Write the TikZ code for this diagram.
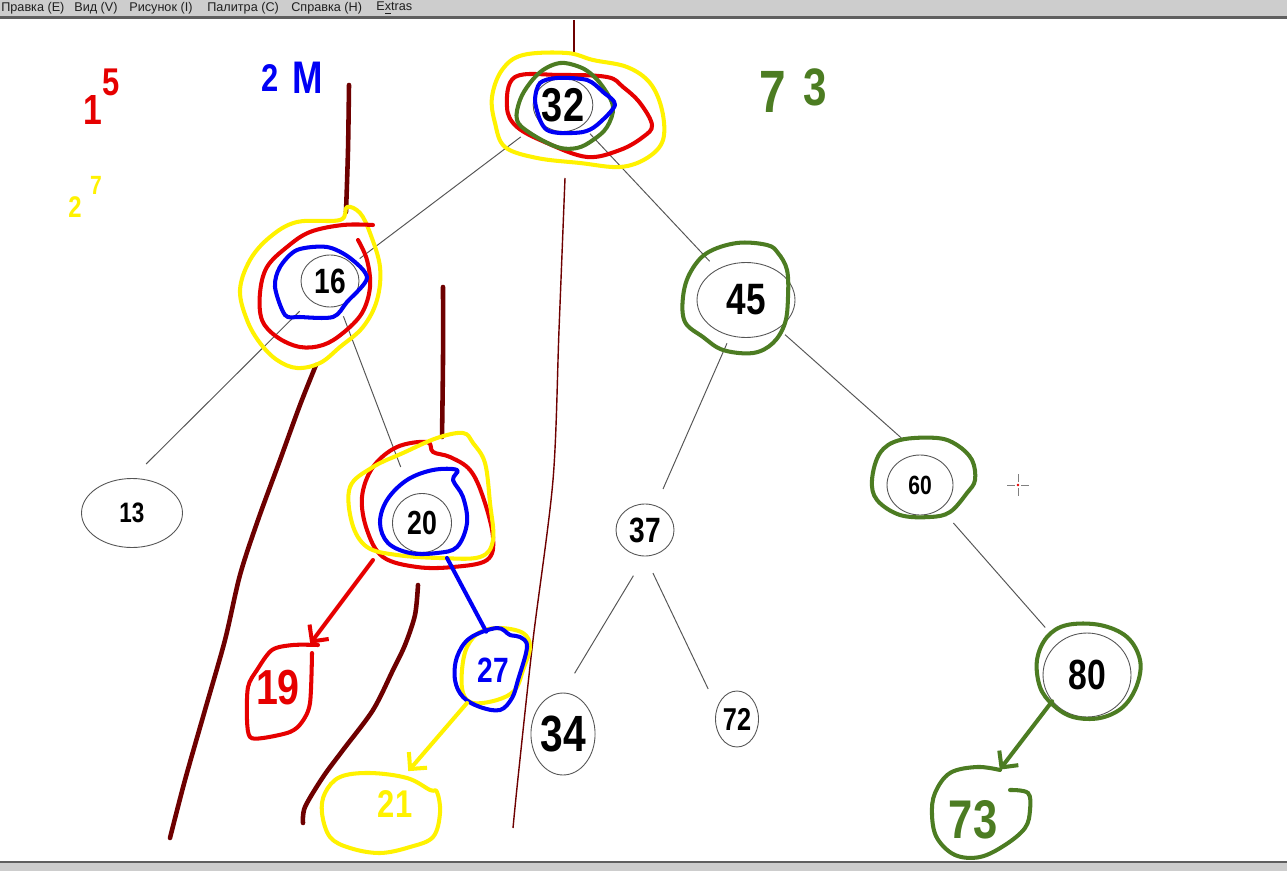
\documentclass[tikz,border=0pt]{standalone}
\usepackage{fontspec}
\setmainfont{Liberation Sans}
\newfontfamily\hand[FakeStretch=0.8]{Liberation Sans}
\usetikzlibrary{arrows.meta,shapes.geometric}

\definecolor{penred}{RGB}{230,0,0}
\definecolor{penblue}{RGB}{0,0,245}
\definecolor{penyellow}{RGB}{255,242,0}
\definecolor{pengreen}{RGB}{76,124,34}
\definecolor{penbrown}{RGB}{110,0,0}
\definecolor{edgegray}{RGB}{85,85,85}
\definecolor{barbg}{RGB}{205,205,205}
\definecolor{barline}{RGB}{95,95,95}

\newcommand{\hsz}[1]{\fontsize{#1}{#1}\selectfont}

\begin{document}
\begin{tikzpicture}[x=0.02cm,y=-0.02cm,
  val/.style={ellipse,draw=edgegray,line width=0.5pt,inner sep=0pt,font=\hand\bfseries\hsz{#1}},
  tag/.style={inner sep=0pt,font=\hand\bfseries\hsz{#1}},
  menu/.style={anchor=west,inner sep=0pt,font=\hsz{7.2},text=black!88},
  edge/.style={draw=edgegray,line width=0.55pt},
  pen/.style={line width=2.3pt,line cap=round,line join=round},
  tip/.style={-{Straight Barb[length=2.4mm,width=4.8mm]}}]

\useasboundingbox (0,0) rectangle (1287,871);
\fill[white] (0,0) rectangle (1287,871);

%% menu bar
\fill[barbg] (0,0) rectangle (1287,16);
\fill[barline] (0,16) rectangle (1287,19);
\node[menu] (mEdit) at (1,8) {Правка (E)};
\node[menu] (mView) at (74,8) {Вид (V)};
\node[menu] (mPic) at (129,8) {Рисунок (I)};
\node[menu] (mPal) at (207,8) {Палитра (C)};
\node[menu] (mHelp) at (291,8) {Справка (H)};
\node[menu] (mExtra) at (376,8) {E\underline{x}tras};

%% status bar
\fill[barline] (0,861) rectangle (1287,863);
\fill[barbg] (0,863) rectangle (1287,871);

%% vertices
\node[val=27,minimum width=1.12cm,minimum height=1.06cm] (n32) at (563,105) {32};
\node[val=20,minimum width=1.16cm,minimum height=1.04cm] (n16) at (330,281) {16};
\node[val=25,minimum width=1.96cm,minimum height=1.5cm] (n45) at (746,300) {45};
\node[val=16,minimum width=2.02cm,minimum height=1.38cm] (n13) at (132,513) {13};
\node[val=19,minimum width=1.18cm,minimum height=1.18cm] (n20) at (422,523) {20};
\node[val=20,minimum width=1.16cm,minimum height=1.04cm] (n37) at (645,530) {37};
\node[val=29,minimum width=1.28cm,minimum height=1.64cm] (n34) at (563,734) {34};
\node[val=18,minimum width=0.86cm,minimum height=1.12cm] (n72) at (737,719) {72};
\node[val=15,minimum width=1.32cm,minimum height=1.2cm] (n60) at (920,485) {60};
\node[val=24,minimum width=1.76cm,minimum height=1.68cm] (n80) at (1087,675) {80};

%% tree edges
\draw[edge,shorten <=4.8mm,shorten >=1.8mm] (n32) -- (n16);
\draw[edge,shorten <=2.2mm,shorten >=2.2mm] (n32) -- (n45);
\draw[edge,shorten <=3mm,shorten >=4mm] (n16) -- (n13.north);
\draw[edge,shorten <=2.2mm,shorten >=6mm] (n16) -- (n20);
\draw[edge,shorten <=1.6mm,shorten >=3.6mm] (n45) -- (n37);
\draw[edge,shorten <=1.8mm,shorten >=5mm] (n45) -- (n60.north);
\draw[edge,shorten <=4.5mm,shorten >=4.5mm] (n37.south) -- (n34.north);
\draw[edge,shorten <=3.7mm,shorten >=4.1mm] (n37.south) -- (n72.150);
\draw[edge,shorten <=3.8mm,shorten >=4mm] (n60) -- (n80);

%% found values
\node[tag=28,text=penred,minimum width=1.5cm,minimum height=1.76cm] (n19) at (278,688) {19};
\node[tag=20,text=penblue,minimum width=1.2cm,minimum height=1.52cm] (n27) at (493,670) {27};
\node[tag=22,text=penyellow,minimum width=1.8cm,minimum height=1.3cm] (n21) at (395,804) {21};
\node[tag=31,text=pengreen,minimum width=1.6cm,minimum height=2cm] (n73) at (973,820) {73};

%% top labels
\node[tag=24,text=penred] (redA) at (93,110) {1};
\node[tag=22,text=penred] (redB) at (111,82) {5};
\node[tag=22,text=penblue] (blueA) at (270,78) {2};
\node[tag=26,text=penblue] (blueB) at (308,78) {M};
\node[tag=34,text=pengreen] (greenA) at (773,92) {7};
\node[tag=30,text=pengreen] (greenB) at (815,87) {3};
\node[tag=17,text=penyellow] (yelA) at (75,207) {2};
\node[tag=15,text=penyellow] (yelB) at (96,185) {7};

%% brown strokes
\draw[pen,draw=penbrown,line width=2.6pt] plot[smooth] coordinates {(349,85) (348,150) (346,212)};
\draw[pen,draw=penbrown,line width=2.6pt] plot[smooth] coordinates {(443,287) (443,360) (442,437)};
\draw[pen,draw=penbrown,line width=2.6pt] plot[smooth] coordinates {(316,365) (300,405) (280,460) (258,520) (240,575) (225,640) (205,710) (185,780) (170,838)};
\draw[pen,draw=penbrown,line width=2.6pt] plot[smooth] coordinates {(418,585) (415,615) (405,645) (393,670) (373,710) (343,750) (323,777) (305,807) (303,823)};
\draw[draw=penbrown,line width=0.8pt] (574,20) -- (574,52);
\draw[draw=penbrown,line width=0.8pt] plot[smooth] coordinates {(565,178) (559,330) (553,480) (533,640) (518,778) (513,828)};

%% rings round 32
\draw[pen,draw=penyellow] plot[smooth cycle,tension=0.6] coordinates {(567,53) (523,55) (502,70) (492,97) (495,123) (505,147) (537,158) (580,163) (620,167) (647,158) (663,140) (662,110) (650,83) (627,67) (593,60)};
\draw[pen,draw=penred] plot[smooth cycle,tension=0.6] coordinates {(515,77) (507,107) (517,127) (547,143) (587,157) (620,150) (643,137) (652,125) (640,103) (623,87) (607,77) (560,75)};
\draw[pen,draw=pengreen] plot[smooth cycle,tension=0.6] coordinates {(560,63) (543,70) (530,83) (520,100) (517,120) (530,133) (557,147) (577,148) (593,140) (607,127) (613,107) (603,87) (590,73) (577,66)};
\draw[pen,draw=penblue] plot[smooth cycle,tension=0.5] coordinates {(540,83) (535,100) (540,120) (547,130) (560,133) (583,132) (597,125) (615,105) (603,92) (587,80) (557,78)};

%% rings round 16
\draw[pen,draw=penyellow] plot[smooth cycle,tension=0.6] coordinates {(340,220) (297,222) (270,237) (250,260) (240,290) (247,320) (260,343) (277,360) (297,368) (320,363) (340,347) (363,327) (377,300) (380,267) (370,233) (360,213) (347,207)};
\draw[pen,draw=penred] plot[smooth,tension=0.6] coordinates {(373,225) (343,225) (310,232) (287,247) (267,267) (260,293) (262,320) (277,337) (300,347) (323,345) (343,333) (362,313) (370,287) (367,260) (358,240)};
\draw[pen,draw=penblue] plot[smooth cycle,tension=0.5] coordinates {(367,278) (350,258) (327,247) (297,250) (280,267) (275,287) (285,315) (300,317) (333,317) (347,302)};

%% rings round 20
\draw[pen,draw=penred] plot[smooth cycle,tension=0.6] coordinates {(427,442) (397,447) (373,467) (362,497) (367,530) (383,557) (417,567) (453,567) (487,560) (493,537) (483,497) (470,470) (450,457) (433,452)};
\draw[pen,draw=penyellow] plot[smooth cycle,tension=0.6] coordinates {(463,433) (437,438) (403,453) (373,467) (350,487) (352,523) (367,547) (397,555) (440,558) (480,557) (493,540) (490,503) (485,463) (473,443)};
\draw[pen,draw=penblue] plot[smooth cycle,tension=0.6] coordinates {(457,470) (433,470) (407,480) (387,500) (380,523) (388,543) (410,553) (437,553) (457,547) (467,523) (463,497) (453,480)};

%% rings round 45, 60, 80
\draw[pen,draw=pengreen] plot[smooth cycle,tension=0.6] coordinates {(767,245) (737,243) (707,253) (690,273) (683,297) (685,322) (703,337) (723,350) (753,353) (773,343) (785,323) (788,297) (787,270) (778,253)};
\draw[pen,draw=pengreen] plot[smooth cycle,tension=0.6] coordinates {(900,440) (880,453) (872,480) (877,500) (900,515) (930,517) (950,512) (967,493) (975,480) (972,460) (957,445) (937,438)};
\draw[pen,draw=pengreen] plot[smooth cycle,tension=0.6] coordinates {(1067,625) (1047,637) (1037,660) (1040,687) (1053,705) (1073,717) (1100,718) (1123,707) (1137,685) (1140,660) (1127,637) (1100,625)};

%% rings round the found values
\draw[pen,draw=penred] plot[smooth,tension=0.5] coordinates {(312,653) (310,703) (302,722) (290,732) (263,738) (250,737) (247,720) (248,687) (257,670) (272,650) (293,645) (318,645)};
\draw[pen,draw=penyellow] plot[smooth cycle,tension=0.6] coordinates {(480,632) (500,628) (523,633) (530,647) (523,670) (515,690) (497,700) (473,703) (463,693) (462,670) (467,647)};
\draw[pen,draw=penblue] plot[smooth cycle,tension=0.6] coordinates {(497,628) (470,638) (457,657) (455,680) (463,697) (480,707) (500,710) (512,698) (518,680) (527,647) (520,637) (510,635)};
\draw[pen,draw=penyellow] plot[smooth cycle,tension=0.6] coordinates {(430,790) (407,778) (370,773) (340,777) (325,793) (322,813) (330,837) (350,848) (380,853) (410,847) (433,837) (440,813) (437,792)};
\draw[pen,draw=pengreen] plot[smooth,tension=0.6] coordinates {(1000,770) (977,767) (950,773) (935,793) (932,815) (937,838) (955,855) (980,857) (1005,845) (1025,828) (1030,810) (1028,793) (1010,790)};

%% search arrows
\coordinate (red20) at (373,560);
\coordinate (blue20) at (447,558);
\coordinate (yel27) at (467,703);
\draw[pen,draw=penred,tip] (red20) -- (n19.54);
\draw[pen,draw=penblue] (blue20) -- (n27.100);
\draw[pen,draw=penyellow,tip] (yel27) -- (n21.68);
\draw[pen,draw=pengreen,tip] (n80.217) -- (n73.62);

%% cursor
\draw[gray,line width=0.4pt] (1007,485) -- (1015,485) (1021,485) -- (1029,485) (1018,474) -- (1018,482) (1018,488) -- (1018,496);
\fill[penred] (1018,485) circle (1.3);
\end{tikzpicture}
\end{document}
